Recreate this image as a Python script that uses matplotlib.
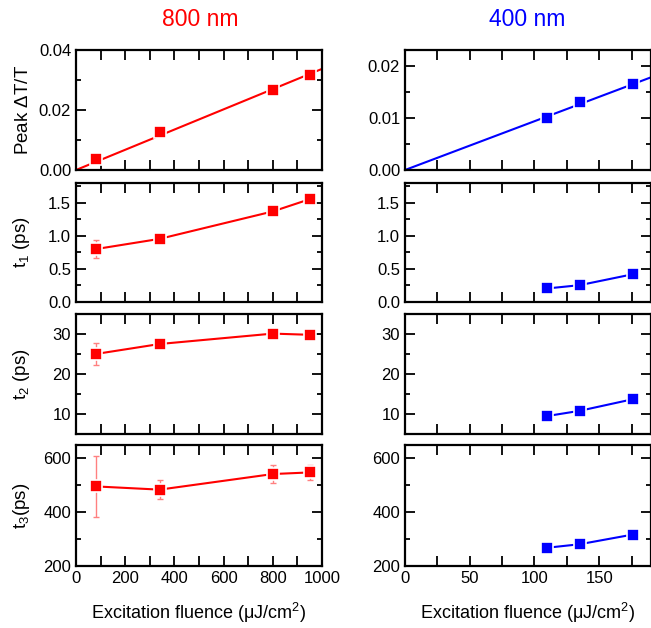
import numpy as np
import matplotlib
matplotlib.use("Agg")
import matplotlib.pyplot as plt
from matplotlib.ticker import MultipleLocator, FormatStrFormatter

plt.rcParams['font.family'] = ['Liberation Sans', 'DejaVu Sans']
plt.rcParams['mathtext.fontset'] = 'custom'
plt.rcParams['mathtext.rm'] = 'Liberation Sans'
plt.rcParams['mathtext.it'] = 'Liberation Sans'

# 800 nm data
x800 = [80, 340, 800, 950]
peak800 = [0.0036, 0.0127, 0.0267, 0.0318]
slope800 = 3.37e-5
t1_800 = [0.80, 0.955, 1.37, 1.555]
t1_800_err = [0.14, 0.03, 0.04, 0.04]
t2_800 = [25.0, 27.5, 30.1, 29.8]
t2_800_err = [2.7, 0.6, 0.6, 0.6]
t3_800 = [496, 484, 542, 548]
t3_800_err = [112, 34, 32, 27]

# 400 nm data
x400 = [110, 135, 176]
peak400 = [0.0100, 0.0130, 0.0164]
slope400 = 9.35e-5
t1_400 = [0.205, 0.255, 0.42]
t2_400 = [9.5, 10.8, 13.7]
t3_400 = [268, 281, 317]

ylabels = ['Peak $\\Delta$T/T', 't$_1$ (ps)', 't$_2$ (ps)', 't$_3$(ps)']
ylims = [None, (0, 1.8), (5, 35), (200, 650)]
ymajor = [None, 0.5, 10, 200]
yminor = [None, 0.25, 5, 100]

fig = plt.figure(figsize=(6.51, 6.28), dpi=100)

tops = [50, 183, 314, 445]
bots = [170, 302, 434, 566]
H = 628.0
left_x, right_x = 76 / 651.0, 405 / 651.0
w = 246 / 651.0

red = '#ff0000'
blue = '#0000ff'


def style(ax):
    for s in ax.spines.values():
        s.set_linewidth(1.6)
    ax.tick_params(which='both', direction='in', top=True, right=True,
                   labelsize=12, width=1.3, colors='black')
    ax.tick_params(axis='x', which='both', length=7.5)
    ax.tick_params(axis='y', which='major', length=7.5)
    ax.tick_params(axis='y', which='minor', length=3.5)


axes_l, axes_r = [], []
for i in range(4):
    b = 1 - bots[i] / H
    h = (bots[i] - tops[i]) / H
    axl = fig.add_axes([left_x, b, w, h])
    axr = fig.add_axes([right_x, b, w, h])
    axes_l.append(axl)
    axes_r.append(axr)

mk = dict(marker='s', ms=9, mec='white', mew=1.2)

# peak panels
ax = axes_l[0]
xx = np.array([0, 1000])
ax.plot(xx, slope800 * xx, color=red, lw=1.5)
ax.plot(x800, peak800, ls='none', color=red, **mk)
ax.set_ylim(0, 0.04)
ax.yaxis.set_major_locator(MultipleLocator(0.02))
ax.yaxis.set_minor_locator(MultipleLocator(0.01))
ax.yaxis.set_major_formatter(FormatStrFormatter('%.2f'))

ax = axes_r[0]
xx = np.array([0, 190])
ax.plot(xx, slope400 * xx, color=blue, lw=1.5)
ax.plot(x400, peak400, ls='none', color=blue, **mk)
ax.set_ylim(0, 0.023)
ax.yaxis.set_major_locator(MultipleLocator(0.01))
ax.yaxis.set_minor_locator(MultipleLocator(0.005))
ax.yaxis.set_major_formatter(FormatStrFormatter('%.2f'))

# lifetime panels
left_sets = [(t1_800, t1_800_err), (t2_800, t2_800_err), (t3_800, t3_800_err)]
right_sets = [t1_400, t2_400, t3_400]
for i in range(1, 4):
    ax = axes_l[i]
    y, e = left_sets[i - 1]
    ax.errorbar(x800, y, yerr=e, ls='none', ecolor='#ff8080', elinewidth=1,
                capsize=2.5, capthick=1, zorder=2)
    ax.plot(x800, y, color=red, lw=1.5, zorder=3, **mk)
    ax2 = axes_r[i]
    ax2.plot(x400, right_sets[i - 1], color=blue, lw=1.5, zorder=3, **mk)
    for a in (ax, ax2):
        a.set_ylim(*ylims[i])
        a.yaxis.set_major_locator(MultipleLocator(ymajor[i]))
        a.yaxis.set_minor_locator(MultipleLocator(yminor[i]))
    if i == 1:
        for a in (ax, ax2):
            a.yaxis.set_major_formatter(FormatStrFormatter('%.1f'))

for i in range(4):
    ax = axes_l[i]
    ax.set_xlim(0, 1000)
    ax.xaxis.set_major_locator(MultipleLocator(200))
    ax.xaxis.set_minor_locator(MultipleLocator(100))
    ax.set_ylabel(ylabels[i], fontsize=13.5)
    ax2 = axes_r[i]
    ax2.set_xlim(0, 190)
    ax2.xaxis.set_major_locator(MultipleLocator(50))
    ax2.xaxis.set_minor_locator(MultipleLocator(25))
    style(ax)
    style(ax2)
    if i < 3:
        ax.set_xticklabels([])
        ax2.set_xticklabels([])

for a in axes_l:
    a.yaxis.set_label_coords(-0.18, 0.5)

axes_l[3].set_xlabel('Excitation fluence ($\\mu$J/cm$^2$)', fontsize=13, labelpad=11)
axes_r[3].set_xlabel('Excitation fluence ($\\mu$J/cm$^2$)', fontsize=13, labelpad=11)

fig.text(200 / 651.0, 1 - 19 / H, '800 nm', color=red, fontsize=16.5,
         ha='center', va='center')
fig.text(527 / 651.0, 1 - 19 / H, '400 nm', color=blue, fontsize=16.5,
         ha='center', va='center')

fig.savefig('out.png', dpi=100)
